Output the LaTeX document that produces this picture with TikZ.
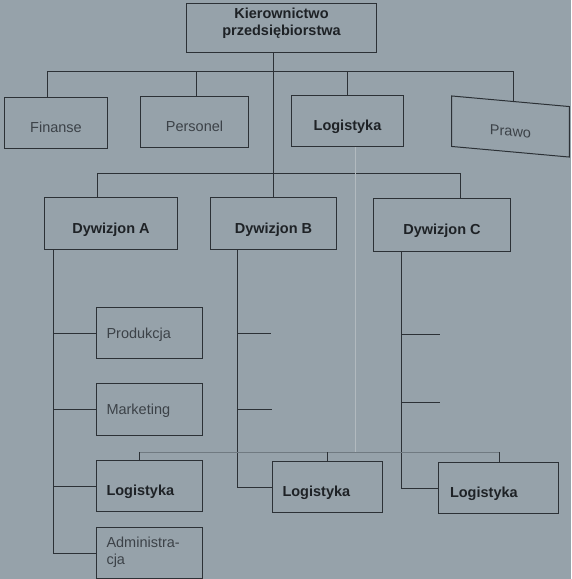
\documentclass[tikz,border=0pt]{standalone}
\usepackage{fontspec}
\setmainfont{Liberation Sans}
\definecolor{bgc}{RGB}{150,162,170}
\definecolor{linec}{RGB}{44,49,54}
\definecolor{thinc}{RGB}{178,186,191}
\definecolor{barc}{RGB}{112,122,129}
\definecolor{boldc}{RGB}{30,34,38}
\definecolor{regc}{RGB}{60,66,72}
\begin{document}
\begin{tikzpicture}[x=1pt,y=-1pt,
  box/.style={draw=linec, line width=1pt, fill=bgc, rectangle, inner sep=0pt,
    anchor=north west, font=\fontsize{14.5}{17}\selectfont},
  sz/.style 2 args={minimum width=#1pt, minimum height=#2pt},
  bt/.style={font=\fontsize{14.5}{17}\selectfont\bfseries, text=boldc,
    text height=19.4pt, text depth=0pt},
  rt/.style={text=regc, text height=19.4pt, text depth=0pt},
  lt/.style={text=regc, text height=10.4pt, text depth=0pt},
  conn/.style={draw=linec, line width=1pt},
  loglink/.style={draw=thinc, line width=1pt},
  logbar/.style={draw=barc, line width=1pt}]

\useasboundingbox (0,0) rectangle (571,579);
\fill[bgc] (0,0) rectangle (571,579);

% top level
\node[box, sz={190}{49}, font=\fontsize{14.5}{17}\selectfont\bfseries, text=boldc,
  text height=15pt, text depth=0pt] (top) at (186,3)
  {\begin{tabular}[b]{@{}c@{}}Kierownictwo\\przedsiębiorstwa\end{tabular}};

\node[box, sz={103}{51}, rt] (fin) at (4,97) {Finanse};
\node[box, sz={108}{51}, rt] (pers) at (140,96) {Personel};
\node[box, sz={112}{51}, bt] (logt) at (291,95) {Logistyka};
\begin{scope}[shift={(510.5,126.5)}, yslant=-0.09]
  \node[box, anchor=center, transform shape, sz={117.6}{50.5}, rt] (prawo) at (0,0) {Prawo};
\end{scope}

% divisions
\node[box, sz={133}{52}, bt] (dyA) at (44,197) {Dywizjon A};
\node[box, sz={126}{52}, bt] (dyB) at (210,197) {Dywizjon B};
\node[box, sz={137}{53}, bt] (dyC) at (373,198) {Dywizjon C};

% division A units
\node[box, sz={106}{51}, lt] (prod) at (96,307) {\makebox[86pt][l]{Produkcja}};
\node[box, sz={106}{52}, lt] (mark) at (96,383) {\makebox[86pt][l]{Marketing}};
\node[box, sz={106}{51}, bt] (logA) at (96,460) {\makebox[86pt][l]{Logistyka}};
\node[box, sz={106}{51}, text=regc, text height=23.6pt, text depth=0pt] (adm) at (96,527)
  {\makebox[86pt][l]{\begin{tabular}[b]{@{}l@{}}Administra-\\cja\end{tabular}}};

% division B and C logistics
\node[box, sz={110}{51}, bt] (logB) at (272,461) {\makebox[90pt][l]{Logistyka}};
\node[box, sz={120}{51}, bt] (logC) at (438,462) {\makebox[97pt][l]{Logistyka}};

% coordinates
\coordinate (b1a) at (47,71);
\coordinate (b1b) at (196,71);
\coordinate (b1c) at (347,71);
\coordinate (b1d) at (513,71);
\coordinate (vx) at (273.5,0);
\coordinate (b2a) at (97.6,173);
\coordinate (b2c) at (460.7,173);
\coordinate (sA) at (53,0);
\coordinate (sB) at (237,0);
\coordinate (sC) at (401.5,0);
\coordinate (bS1) at (271,333);
\coordinate (bS2) at (272,409);
\coordinate (cS1) at (440,334);
\coordinate (cS2) at (440,402);
\coordinate (lx) at (355,0);
\coordinate (b3a) at (139.5,452);
\coordinate (b3c) at (499,452);

% top connectors
\draw[conn] (b1a |- fin.north) -- (b1a) -- (b1d) -- (b1d |- prawo.north);
\draw[conn] (b1b) -- (b1b |- pers.north);
\draw[conn] (b1c) -- (b1c |- logt.north);
\draw[conn] (vx |- top.south) -- (vx |- dyB.north);
\draw[conn] (b2a |- dyA.north) -- (b2a) -- (b2c) -- (b2c |- dyC.north);

% spine A
\draw[conn] (sA |- dyA.south) -- (sA |- adm.west) -- (adm.west);
\draw[conn] (sA |- prod.west) -- (prod.west);
\draw[conn] (sA |- mark.west) -- (mark.west);
\draw[conn] (sA |- logA.west) -- (logA.west);

% spine B
\draw[conn] (sB |- dyB.south) -- (sB |- logB.west) -- (logB.west);
\draw[conn] (sB |- bS1) -- (bS1);
\draw[conn] (sB |- bS2) -- (bS2);

% spine C
\draw[conn] (sC |- dyC.south) -- (sC |- logC.west) -- (logC.west);
\draw[conn] (sC |- cS1) -- (cS1);
\draw[conn] (sC |- cS2) -- (cS2);

% logistics network
\draw[loglink] (lx |- logt.south) -- (lx |- b3a);
\draw[logbar] (b3a) -- (b3c);
\draw[conn] (b3a) -- (b3a |- logA.north);
\draw[conn] (logB.north |- b3a) -- (logB.north);
\draw[conn] (b3c) -- (b3c |- logC.north);
\end{tikzpicture}
\end{document}
